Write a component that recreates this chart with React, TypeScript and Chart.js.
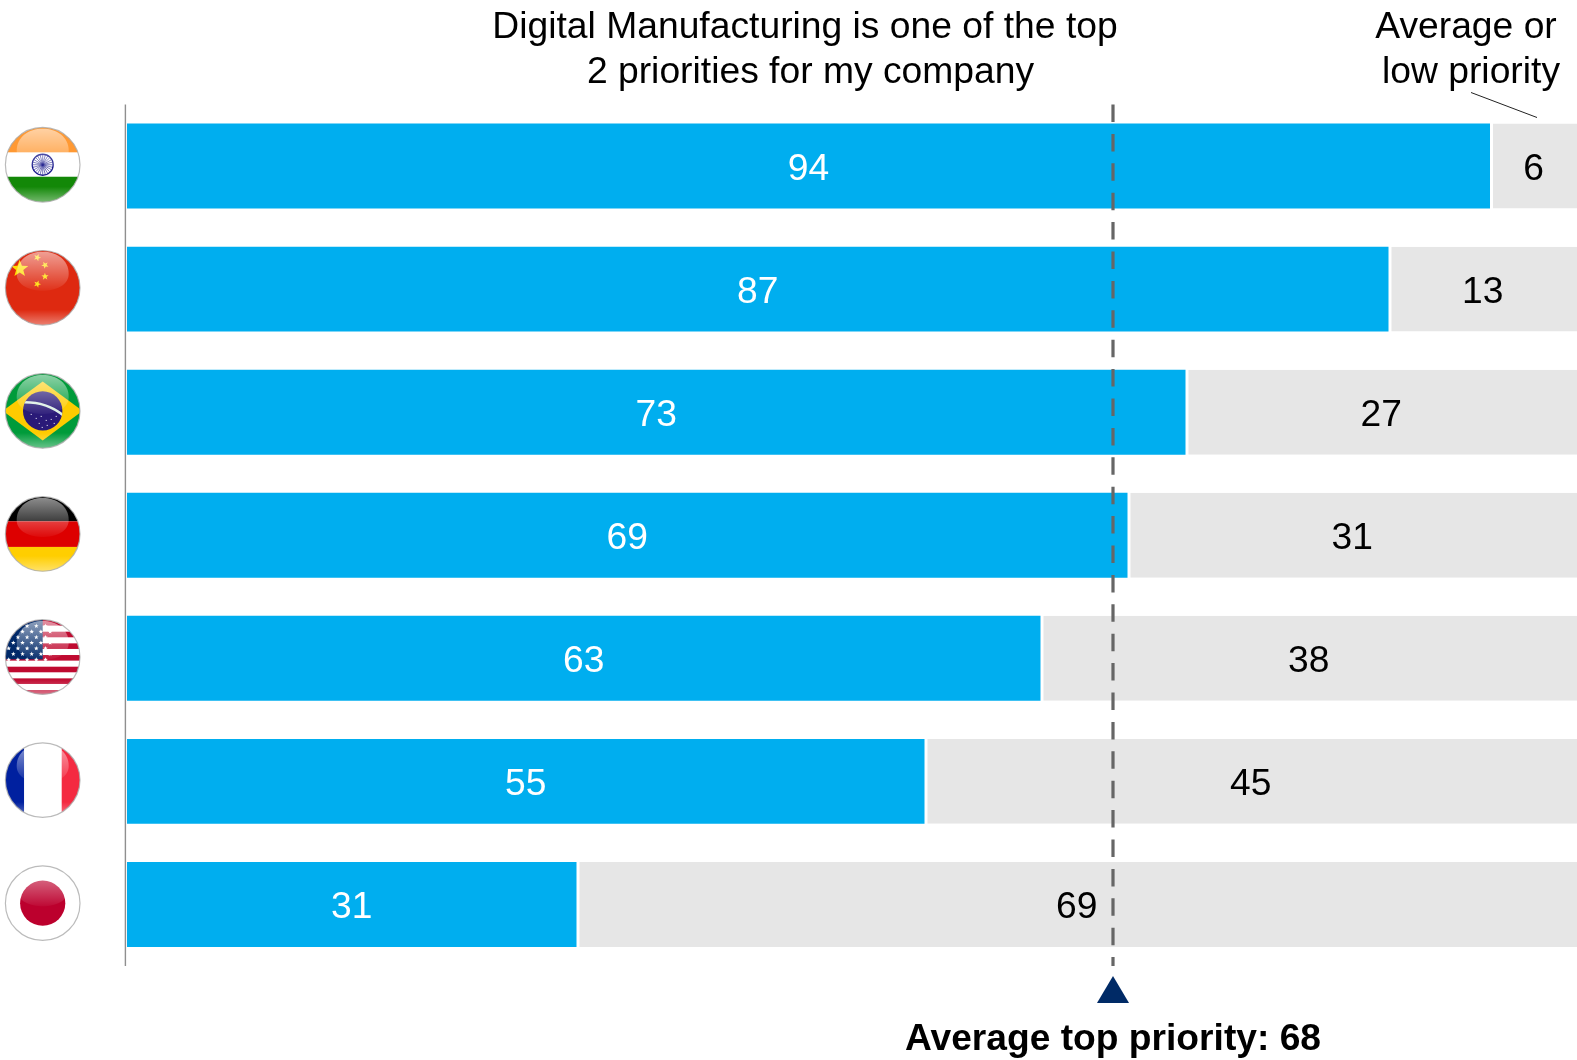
import { useEffect, useRef } from "react";
import { Chart, registerables } from "chart.js";

Chart.register(...registerables);

const countries = ["India", "China", "Brazil", "Germany", "United States", "France", "Japan"];
const topPriority = [94, 87, 73, 69, 63, 55, 31];
const averageOrLow = [6, 13, 27, 31, 38, 45, 69];
const averageTopPriority = 68;

const FONT = '"Liberation Sans", Arial, sans-serif';
const BLUE = "#00aeef";
const GREY = "#e6e6e6";

type Ctx = CanvasRenderingContext2D;

function star(ctx: Ctx, cx: number, cy: number, r: number, rot = -Math.PI / 2) {
  ctx.beginPath();
  for (let i = 0; i < 10; i++) {
    const rad = i % 2 === 0 ? r : r * 0.42;
    const a = rot + (i * Math.PI) / 5;
    ctx.lineTo(cx + rad * Math.cos(a), cy + rad * Math.sin(a));
  }
  ctx.closePath();
  ctx.fill();
}

// Flag artwork, drawn around (0, 0) inside a disc of radius 37.
const flagPainters: Record<string, (ctx: Ctx) => void> = {
  India(ctx) {
    ctx.fillStyle = "#ff9933";
    ctx.fillRect(-38, -38, 76, 26);
    ctx.fillStyle = "#ffffff";
    ctx.fillRect(-38, -12.3, 76, 24.6);
    ctx.fillStyle = "#138808";
    ctx.fillRect(-38, 12, 76, 26);
    ctx.strokeStyle = "#1a1a8c";
    ctx.lineWidth = 1.3;
    ctx.beginPath();
    ctx.arc(0, 0, 10.5, 0, Math.PI * 2);
    ctx.stroke();
    ctx.lineWidth = 0.6;
    for (let i = 0; i < 24; i++) {
      const a = (i * Math.PI) / 12;
      ctx.beginPath();
      ctx.moveTo(0, 0);
      ctx.lineTo(10 * Math.cos(a), 10 * Math.sin(a));
      ctx.stroke();
    }
  },
  China(ctx) {
    ctx.fillStyle = "#de2910";
    ctx.fillRect(-38, -38, 76, 76);
    ctx.fillStyle = "#ffde00";
    star(ctx, -23, -19, 9);
    star(ctx, -5.4, -30.3, 3.8, -1.2);
    star(ctx, 2.3, -22.7, 3.8, -0.8);
    star(ctx, 2.3, -11.3, 3.8, -1.6);
    star(ctx, -5.4, -3.7, 3.8, -1.2);
  },
  Brazil(ctx) {
    ctx.fillStyle = "#009b3a";
    ctx.fillRect(-38, -38, 76, 76);
    ctx.fillStyle = "#fecb00";
    ctx.beginPath();
    ctx.moveTo(0, -29.5);
    ctx.lineTo(40, 0);
    ctx.lineTo(0, 29.5);
    ctx.lineTo(-40, 0);
    ctx.closePath();
    ctx.fill();
    ctx.save();
    ctx.beginPath();
    ctx.arc(0, 0, 19.7, 0, Math.PI * 2);
    ctx.fillStyle = "#2a1a78";
    ctx.fill();
    ctx.clip();
    ctx.strokeStyle = "#dcefe4";
    ctx.lineWidth = 2.6;
    ctx.beginPath();
    ctx.moveTo(-21, -8.5);
    ctx.quadraticCurveTo(4, -9.5, 21, 5);
    ctx.stroke();
    ctx.fillStyle = "#ffffff";
    const dots = [[-12, 3], [-7, 7], [-2, 5], [3, 9], [8, 8], [11, 12], [4, 14], [-4, 12], [13, 5], [-1, 16]];
    for (const [dx, dy] of dots) ctx.fillRect(dx, dy, 1, 1);
    ctx.restore();
  },
  Germany(ctx) {
    ctx.fillStyle = "#000000";
    ctx.fillRect(-38, -38, 76, 25.4);
    ctx.fillStyle = "#dd0000";
    ctx.fillRect(-38, -12.6, 76, 25.6);
    ctx.fillStyle = "#ffce00";
    ctx.fillRect(-38, 13, 76, 25);
  },
  "United States"(ctx) {
    ctx.fillStyle = "#ffffff";
    ctx.fillRect(-38, -38, 76, 76);
    ctx.fillStyle = "#bf0a30";
    for (let k = -3; k <= 3; k++) ctx.fillRect(-38, -2 + k * 11.67, 76, 5.6);
    ctx.fillStyle = "#002868";
    ctx.fillRect(-38, -38, 38, 40.3);
    ctx.fillStyle = "#ffffff";
    for (let row = 0; row < 7; row++) {
      for (let col = 0; col < 5; col++) {
        star(ctx, -34 + col * 9.2 + (row % 2) * 4.6, -31 + row * 5.6, 2.4);
      }
    }
  },
  France(ctx) {
    ctx.fillStyle = "#00209f";
    ctx.fillRect(-38, -38, 19.5, 76);
    ctx.fillStyle = "#ffffff";
    ctx.fillRect(-18.5, -38, 37.5, 76);
    ctx.fillStyle = "#f42a41";
    ctx.fillRect(19, -38, 19, 76);
  },
  Japan(ctx) {
    ctx.fillStyle = "#ffffff";
    ctx.fillRect(-38, -38, 76, 76);
    ctx.fillStyle = "#bc002d";
    ctx.beginPath();
    ctx.arc(0, 0, 22.6, 0, Math.PI * 2);
    ctx.fill();
  },
};

function drawFlag(ctx: Ctx, name: string, cx: number, cy: number) {
  const r = 37.3;
  ctx.save();
  ctx.translate(cx, cy);
  ctx.save();
  ctx.beginPath();
  ctx.arc(0, 0, r, 0, Math.PI * 2);
  ctx.clip();
  flagPainters[name](ctx);

  // Glossy dome across the upper half of the disc.
  const dome = ctx.createLinearGradient(0, -36, 0, 3);
  dome.addColorStop(0, "rgba(255,255,255,0.55)");
  dome.addColorStop(1, "rgba(255,255,255,0.04)");
  ctx.fillStyle = dome;
  ctx.beginPath();
  ctx.moveTo(-26, -14);
  ctx.bezierCurveTo(-26, -28, -14, -36, 0, -36);
  ctx.bezierCurveTo(14, -36, 26, -28, 26, -14);
  ctx.bezierCurveTo(26, -2, 12, 3, 0, 3);
  ctx.bezierCurveTo(-12, 3, -26, -2, -26, -14);
  ctx.closePath();
  ctx.fill();

  // Soft reflection along the lower rim.
  const rim = ctx.createLinearGradient(0, 22, 0, 37);
  rim.addColorStop(0, "rgba(255,255,255,0)");
  rim.addColorStop(1, "rgba(255,255,255,0.4)");
  ctx.fillStyle = rim;
  ctx.fillRect(-38, 22, 76, 16);
  ctx.restore();

  ctx.strokeStyle = "rgba(170,170,170,0.8)";
  ctx.lineWidth = 1.2;
  ctx.beginPath();
  ctx.arc(0, 0, r, 0, Math.PI * 2);
  ctx.stroke();
  ctx.restore();
}

function text(ctx: Ctx, value: string, x: number, y: number, font: string, color = "#000000") {
  ctx.font = font;
  ctx.fillStyle = color;
  ctx.textAlign = "center";
  ctx.textBaseline = "alphabetic";
  ctx.fillText(value, x, y);
}

const annotations = {
  id: "annotations",
  afterDatasetsDraw(chart: any) {
    const { ctx, chartArea: area, scales } = chart;
    const yScale = scales.y;
    const xScale = scales.x;
    ctx.save();

    // Category axis rule and the flags that stand in for its labels.
    ctx.strokeStyle = "#8f8f8f";
    ctx.lineWidth = 1.4;
    ctx.beginPath();
    ctx.moveTo(125.4, area.top);
    ctx.lineTo(125.4, area.bottom);
    ctx.stroke();
    countries.forEach((name, i) => {
      drawFlag(ctx, name, 42.7, yScale.getPixelForValue(i) - 1.3);
    });

    // Value labels, centred on the visible part of each segment.
    chart.data.datasets.forEach((_: unknown, d: number) => {
      chart.getDatasetMeta(d).data.forEach((bar: any, i: number) => {
        const left = Math.max(area.left, Math.min(bar.x, bar.base));
        const right = Math.min(area.right, Math.max(bar.x, bar.base));
        const values = d === 0 ? topPriority : averageOrLow;
        text(ctx, String(values[i]), (left + right) / 2, bar.y + 13.5, `37.2px ${FONT}`, d === 0 ? "#ffffff" : "#000000");
      });
    });

    // Average marker: dashed rule plus the triangle beneath it.
    const avgX = xScale.getPixelForValue(averageTopPriority);
    ctx.strokeStyle = "#666666";
    ctx.lineWidth = 3.2;
    ctx.setLineDash([17.5, 11.9]);
    ctx.beginPath();
    ctx.moveTo(avgX, area.top);
    ctx.lineTo(avgX, area.bottom);
    ctx.stroke();
    ctx.setLineDash([]);
    ctx.fillStyle = "#002a66";
    ctx.beginPath();
    ctx.moveTo(avgX, area.bottom + 10);
    ctx.lineTo(avgX + 16, area.bottom + 37);
    ctx.lineTo(avgX - 16, area.bottom + 37);
    ctx.closePath();
    ctx.fill();

    // Headings.
    const headingFont = `37.25px ${FONT}`;
    text(ctx, "Digital Manufacturing is one of the top", 805, 38, headingFont);
    text(ctx, "2 priorities for my company", 810.5, 83, headingFont);
    text(ctx, "Average or", 1466, 38, headingFont);
    text(ctx, "low priority", 1471, 83, headingFont);
    text(ctx, `Average top priority: ${averageTopPriority}`, 1113, 1050, `bold 37.2px ${FONT}`);

    // Leader from the right-hand heading to the grey segment.
    ctx.strokeStyle = "#222222";
    ctx.lineWidth = 1;
    ctx.beginPath();
    ctx.moveTo(1471, 92.5);
    ctx.lineTo(1537, 117.5);
    ctx.stroke();
    ctx.restore();
  },
};

export default function App() {
  const canvasRef = useRef<HTMLCanvasElement | null>(null);

  useEffect(() => {
    document.body.style.margin = "0";
    const chart = new Chart(canvasRef.current!, {
      type: "bar",
      data: {
        labels: countries,
        datasets: [
          {
            label: "Digital Manufacturing is one of the top 2 priorities for my company",
            data: topPriority,
            backgroundColor: BLUE,
            borderWidth: 0,
            categoryPercentage: 1,
            barPercentage: 0.69,
          },
          {
            label: "Average or low priority",
            data: averageOrLow,
            backgroundColor: GREY,
            borderColor: "#ffffff",
            borderWidth: { left: 3, right: 0, top: 0, bottom: 0 },
            borderSkipped: false,
            categoryPercentage: 1,
            barPercentage: 0.69,
          },
        ],
      },
      options: {
        indexAxis: "y",
        responsive: false,
        animation: false,
        layout: { padding: { left: 127, right: 0, top: 104.5, bottom: 94 } },
        scales: {
          x: { stacked: true, min: 0, max: 100, display: false },
          y: { stacked: true, display: false },
        },
        plugins: { legend: { display: false }, tooltip: { enabled: false } },
      },
      plugins: [annotations],
    } as any);
    return () => chart.destroy();
  }, []);

  return <canvas ref={canvasRef} width={1577} height={1060} style={{ display: "block" }} />;
}
